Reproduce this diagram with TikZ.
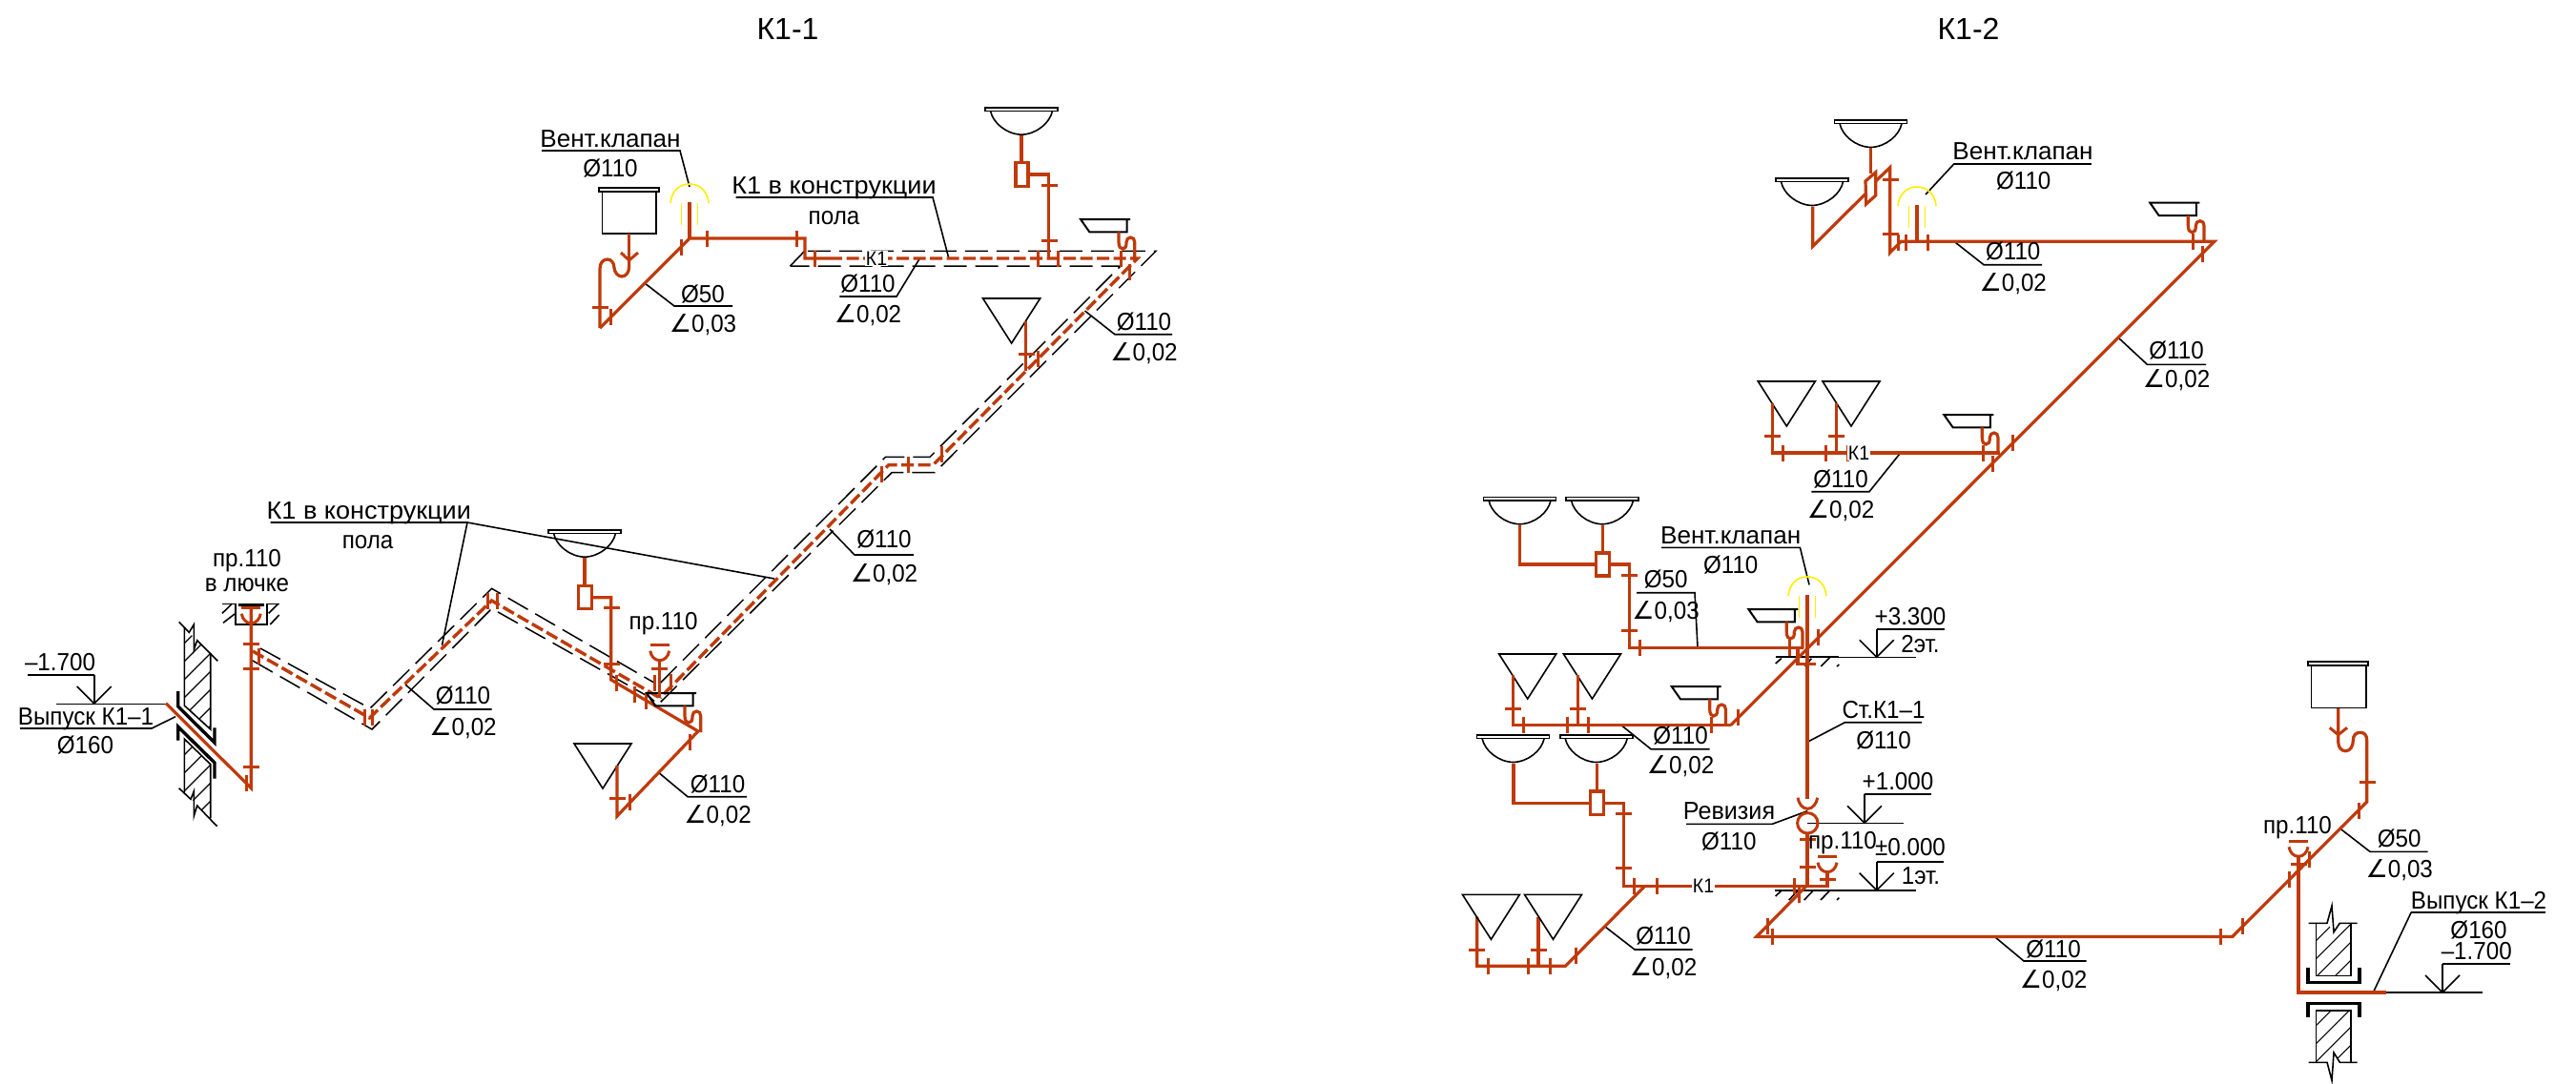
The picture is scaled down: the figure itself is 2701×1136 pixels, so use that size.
\documentclass[tikz,border=0pt]{standalone}
\usepackage{fontspec}
\setmainfont[FakeStretch=0.93]{Liberation Sans}
\newfontfamily\symf{DejaVu Sans}
\newfontfamily\ttlf{Liberation Sans}
\definecolor{rdc}{RGB}{191,58,10}
\definecolor{ylc}{RGB}{255,238,0}
\newcounter{tn}
\tikzset{
  pipe/.style={draw=rdc,line width=3.2pt,line join=miter},
  tick/.style={draw=rdc,line width=3pt},
  dpipe/.style={draw=rdc,line width=3.4pt,dash pattern=on 13pt off 4.5pt},
  blk/.style={draw=black,line width=1.6pt},
  thick blk/.style={draw=black,line width=3.4pt},
  dblk/.style={draw=black,line width=1.5pt,dash pattern=on 24pt off 9pt},
  yel/.style={draw=ylc,line width=1.6pt},
  lbl/.style={anchor=base,inner sep=0pt,font=\fontsize{26}{30}\selectfont},
  small/.style={anchor=base,inner sep=1pt,fill=white,font=\fontsize{21}{24}\selectfont},
  ttl/.style={anchor=base,inner sep=0pt,font=\ttlf\fontsize{32}{38}\selectfont},
}
\newcommand\T[3]{\stepcounter{tn}\node[lbl] (t\arabic{tn}) at (#1,#2) {#3};}
\newcommand\TS[3]{\stepcounter{tn}\node[small] (t\arabic{tn}) at (#1,#2) {#3};}
\newcommand\wide[2]{\scalebox{#1}[1]{#2}}
\newcommand\ang{{\symf ∠}}
\newcommand\dia{Ø}
\newcommand\tkv[2]{\draw[tick] (#1,{#2-8.5}) -- (#1,{#2+8.5});}
\newcommand\tkh[2]{\draw[tick] ({#1-8.5},#2) -- ({#1+8.5},#2);}
% washbasin: centre x, top y
\newcommand\basin[2]{\begin{scope}[shift={(#1,#2)}]
  \draw[blk,fill=white] (-38,0) rectangle (38,3.6);
  \draw[blk] (-32.5,3.6) .. controls (-30,16) and (-16,28) .. (0,28.5) .. controls (16,28) and (30,16) .. (32.5,3.6);
\end{scope}}
% inverted triangle: left x, top y
\newcommand\trian[2]{\draw[blk,shift={(#1,#2)}] (0,0) -- (60,0) -- (30,47) -- cycle;}
% tray with S-trap: left x, top y, trap end relative y
\newcommand\tray[3]{\begin{scope}[shift={(#1,#2)}]
  \draw[blk,line width=2pt] (52,0) -- (0,0) -- (9.3,13.3) -- (48.5,13.3) -- (48.5,0);
  \draw[pipe] (40,13.3) -- (40,24) .. controls (40,29) and (42,31) .. (44,31) .. controls (46.5,31) and (48,29) .. (48,25) -- (48,24) .. controls (48,21) and (50,19) .. (52.5,19) .. controls (55,19) and (56.7,21) .. (56.7,24) -- (56.7,#3);
\end{scope}}
% cup: stem x, bar y
\newcommand\cupp[2]{\begin{scope}[shift={(#1,#2)}]
  \draw[tick] (-10,0) -- (10,0);
  \draw[tick] (-10,6) .. controls (-9,12) and (-5,16) .. (0,16) .. controls (5,16) and (9,12) .. (10,6);
\end{scope}}
% vent valve: stem x, arc top y
\newcommand\vent[2]{\begin{scope}[shift={(#1,#2)}]
  \draw[yel] (-20,20) .. controls (-19,8) and (-11,0) .. (0,0) .. controls (11,0) and (19,8) .. (20,20);
  \draw[yel] (-8.5,20) -- (-8.5,43);
  \draw[yel] (8.5,20) -- (8.5,43);
\end{scope}}
% level mark: apex x, level y, stem top y
\newcommand\lvl[3]{\draw[blk] ({#1-18},{#2-18}) -- (#1,#2) -- ({#1+18},{#2-18}); \draw[blk] (#1,#3) -- (#1,#2);}
\begin{document}
\begin{tikzpicture}[x=1pt,y=-1pt]
\useasboundingbox (0,0) rectangle (2701,1136);
\fill[white] (0,0) rectangle (2701,1136);

% ===== Titles =====
\stepcounter{tn}\node[ttl] (titleA) at (826,41) {К1-1};
\stepcounter{tn}\node[ttl] (titleB) at (2064,41) {К1-2};

% ===== K1-1 : walls =====
\begin{scope}
 \clip (193.3,660) -- (203,668) -- (207,672) -- (220.7,685) -- (220.7,765) -- (193.3,740) -- cycle;
 \foreach \k in {0,...,8} \draw[blk,line width=1.1pt] (190,{640+19*\k}) -- (225,{605+19*\k});
\end{scope}
\begin{scope}
 \clip (193.3,775) -- (220.7,801.7) -- (220.7,858) -- (206,845) -- (203,840) -- (193.3,832) -- cycle;
 \foreach \k in {0,...,8} \draw[blk,line width=1.1pt] (190,{795+19*\k}) -- (225,{760+19*\k});
\end{scope}
\draw[blk] (193.3,658) -- (193.3,740) -- (220.7,765) -- (220.7,685);
\draw[blk] (220.7,858) -- (220.7,801.7) -- (193.3,775) -- (193.3,832);
\draw[blk] (187.7,652.3) -- (198.3,663.3) -- (203.3,655) -- (203.3,681.7) -- (206.7,671.7) -- (228.3,693.3);
\draw[blk] (187.7,826.7) -- (200,838.3) -- (203.3,830) -- (203.3,856) -- (206.7,845) -- (227.6,866.7);
\draw[thick blk] (186.7,725) -- (186.7,741) -- (225,779) -- (225,763.3);
\draw[thick blk] (186.7,776.7) -- (186.7,762.3) -- (225,800) -- (225,816.7);
% hatch box of cleanout
\draw[blk] (232.7,633.3) -- (246.7,633.3) -- (246.7,655) -- (280,655) -- (280,633.3) -- (292.7,633.3);
\draw[thick blk,line width=2.4pt] (250,634.6) -- (277,634.6);
\draw[blk] (233,643.3) -- (243.3,633.3);
\draw[blk] (234,653.3) -- (246,644);
\draw[blk] (281.7,643.3) -- (291.7,633.3);
\draw[blk] (283.3,655) -- (292.7,645);

% ===== K1-1 : dashed channel outlines =====
\draw[dblk] (273,680) -- (388,743) -- (515.6,617.3) -- (687,716.7);
\draw[dblk] (265,693) -- (390,765) -- (515.6,638.3) -- (681.7,731.7) -- (690,739) -- (935,495.7) -- (980,495.7) -- (1212,263.3) -- (843.7,263.3);
\draw[dblk] (692.7,716) -- (928.6,479.3) -- (975,479.3) -- (1175,279) -- (828.5,279);
\draw[blk] (843.7,263.3) -- (828.5,279);

% ===== K1-1 : leaders =====
\draw[blk] (568,158) -- (713,158) -- (723,196);
\draw[blk] (771.6,207) -- (978,207) -- (995,271.7);
\draw[blk] (676,297) -- (707,321) -- (768,321);
\draw[blk] (964,271.7) -- (940,311) -- (880.4,311);
\draw[blk] (1137.5,326) -- (1168.8,350.7) -- (1229,350.7);
\draw[blk] (870,555) -- (896,582) -- (958,582);
\draw[blk] (283.6,548) -- (490,548) -- (463.5,676.7);
\draw[blk] (490,548) -- (812,607);
\draw[blk] (425,718) -- (455,744) -- (515.6,744);
\draw[blk] (691,810.7) -- (721,835.7) -- (783,835.7);
\draw[blk] (21,764) -- (159,764) -- (184,751.7);
\draw[blk] (59,738.3) -- (174,738.3);
\draw[blk] (28.5,707.7) -- (98.7,707.7);
\lvl{98.7}{738}{707.7}

% ===== K1-1 : fixtures =====
\draw[blk,line width=2pt,fill=white] (628,197) rectangle (691,200.5);
\draw[blk] (631.6,200.5) -- (631.6,245) -- (688,245) -- (688,200.5);
\basin{1071}{112.7}
\basin{613}{555.7}
\trian{1030.6}{313}
\trian{602}{780}
\vent{723}{193}

% tank trap
\draw[pipe] (659.6,245) -- (659.6,273);
\draw[tick] (651,265) -- (659.6,273) -- (669,265);
\draw[pipe] (659.6,273) -- (659.6,280) .. controls (659.6,286) and (656,290) .. (652,290) .. controls (648,290) and (644.5,286) .. (644,281) .. controls (644,276) and (641,272) .. (637,272) .. controls (632,272) and (629,276) .. (629,282) -- (629,344);
\tkh{629.5}{322.7}
% top branch
\draw[pipe] (629,344) -- (723,250) -- (844,250) -- (844,271) -- (870,271);
\draw[pipe] (723,212) -- (723,250);
\tkv{640}{332.5}
\tkv{714}{259.5}
\tkv{741}{250.5}
\tkv{835}{250.5}
\tkv{854}{271}
% tray top + basin branch
\tray{1133}{230}{42}
\draw[pipe] (1071,141.7) -- (1071,170.7);
\draw[pipe,fill=white] (1065,170.7) rectangle (1078,195.3);
\draw[pipe] (1078,183) -- (1099.4,183) -- (1099.4,271);
\tkh{1100}{194.7}
\tkh{1100}{252}
\tkv{1088.4}{271}
\tkv{1109}{271}
\tkv{1175}{271}
\tkv{1184}{285.5}
% dashed main
\draw[dpipe] (870,271) -- (1192.6,271) -- (978.3,487.7) -- (931.7,487.7) -- (692,732);
\draw[dpipe] (265,683) -- (387.5,753) -- (515.6,630) -- (692,732);
% jog ticks
\tkv{924}{497.5}
\tkv{952}{487.5}
\tkv{987.7}{476}
% riser with triangle
\draw[pipe] (1075.6,336.7) -- (1075.6,389);
\tkh{1076}{371.7}
\tkv{1088.4}{376}
% zigzag ticks
\tkv{271.7}{688}
\tkv{382.7}{752.5}
\tkv{390.7}{752.5}
\tkv{511}{630}
\tkv{521}{630}
% lower end
\draw[pipe] (613,585) -- (613,614.7);
\draw[pipe,fill=white] (606.7,614.7) rectangle (620.4,638.7);
\draw[pipe] (620.4,626.7) -- (640.7,626.7) -- (640.7,713) -- (732,767) -- (647,856) -- (647,803);
\tkh{641.8}{637.7}
\tkh{641.8}{696.7}
\tkv{646.7}{716.5}
\tkv{665}{728.5}
\tkv{677}{735}
\tkv{723}{778.5}
\tkv{660}{841.5}
\tkh{647.3}{837.7}
\tray{678}{727}{41}
\draw[pipe] (691.7,690.7) -- (691.7,732);
\cupp{691.7}{676.7}
\tkh{691.7}{701.7}
\tkv{686}{716}
\tkv{703}{715}
% cleanout in hatch and outlet
\cupp{263.3}{637.7}
\draw[pipe] (263.3,638) -- (263.3,826.7) -- (174,737.7);
\tkh{263.5}{675.7}
\tkh{263.5}{701.7}
\tkh{263.5}{804.3}
\tkv{258.7}{821}

% ===== K1-1 : texts =====
\T{640}{154}{\wide{1.08}{Вент.клапан}}
\T{640}{185}{\dia110}
\T{874.5}{203}{\wide{1.12}{К1 в конструкции}}
\T{874.5}{235.7}{пола}
\TS{919}{278}{К1}
\T{737}{317}{\dia50}
\T{737}{348}{\ang0,03}
\T{910}{306.7}{\dia110}
\T{910}{338}{\ang0,02}
\T{1199.5}{346}{\dia110}
\T{1199.5}{378}{\ang0,02}
\T{927}{574}{\dia110}
\T{927}{610}{\ang0,02}
\T{386.8}{544}{\wide{1.12}{К1 в конструкции}}
\T{385.6}{575}{пола}
\T{259}{594}{пр.110}
\T{259}{620}{в лючке}
\T{63}{703}{–1.700}
\T{90}{760}{Выпуск К1–1}
\T{89.4}{790}{\dia160}
\T{485.5}{738}{\dia110}
\T{485.5}{771.6}{\ang0,02}
\T{695.6}{660}{пр.110}
\T{752.6}{831}{\dia110}
\T{752.6}{863}{\ang0,02}

% ===== K1-2 : leaders and levels =====
\draw[blk] (2049,171.7) -- (2193,171.7);
\draw[blk] (2049,171.7) -- (2019,204);
\draw[blk] (2049,253.3) -- (2080,277.7) -- (2141,277.7);
\draw[blk] (2222,355) -- (2251.5,382.4) -- (2313,382.4);
\draw[blk] (1992.7,475) -- (1960,515.7) -- (1899.3,515.7);
\draw[blk] (1742,574.3) -- (1887.4,574.3) -- (1897,613.3);
\draw[blk] (1716,621.7) -- (1777,621.7) -- (1780,679.3);
\draw[blk] (1700,760.7) -- (1731,785.7) -- (1792.5,785.7);
\draw[blk] (1895,778.3) -- (1934.5,757.7) -- (2015,757.7);
\draw[blk] (1895,850.7) -- (1858.3,864.3) -- (1768,864.3);
\draw[blk] (1682.6,971.7) -- (1714,996) -- (1774.5,996);
\draw[blk] (2091.4,982.5) -- (2122,1008) -- (2187.7,1008);
\draw[blk] (1861.7,689.3) -- (2009.3,689.3);
\draw[thick blk,line width=2.2pt] (1861.7,689.3) -- (1928,689.3);
\draw[blk] (1967.7,660) -- (2039,660);
\lvl{1967.7}{689.3}{660}
\draw[blk] (1861.7,696) -- (1867.7,690.7);
\draw[blk] (1892.7,699) -- (1899.3,690.7);
\draw[blk] (1909.3,699) -- (1918.3,690);
\draw[blk] (1926,699) -- (1928.3,697);
\draw[blk] (1895,863.3) -- (1995.7,863.3);
\draw[blk] (1955,832.7) -- (2025,832.7);
\lvl{1955}{863.3}{832.7}
\draw[blk] (1861,933.7) -- (2009.3,933.7);
\draw[thick blk,line width=2.2pt] (1861,933.7) -- (1928,933.7);
\draw[blk] (1967.7,904) -- (2038.3,904);
\lvl{1967.7}{933.7}{904}
\draw[blk] (1861.7,940) -- (1867.7,934.3);
\draw[blk] (1875.7,944) -- (1885,934.3);
\draw[blk] (1891.7,944) -- (1901,934.3);
\draw[blk] (1909,944) -- (1918.3,934.3);
\draw[blk] (1926,944) -- (1928.3,941.7);
\draw[blk] (2488.3,1041) -- (2602.7,1041);
\draw[blk] (2561,1011) -- (2631.7,1011);
\lvl{2561}{1041}{1011}
\draw[blk] (2528.3,956.7) -- (2669,956.7);
\draw[blk] (2528.3,956.7) -- (2488.3,1041);
\draw[blk] (2454,869.3) -- (2485,893.3) -- (2545.7,893.3);

% ===== K1-2 : walls =====
\begin{scope}
 \clip (2428.3,968.3) -- (2440,968.3) -- (2447,977.7) -- (2453.3,968.3) -- (2465,968.3) -- (2465,1023.3) -- (2428.3,1023.3) -- cycle;
 \foreach \k in {0,...,6} \draw[blk,line width=1.1pt] (2425,{990+19*\k}) -- (2470,{945+19*\k});
\end{scope}
\begin{scope}
 \clip (2428.3,1060) -- (2465,1060) -- (2465,1115) -- (2453.3,1115) -- (2447,1104) -- (2440,1115) -- (2428.3,1115) -- cycle;
 \foreach \k in {0,...,6} \draw[blk,line width=1.1pt] (2425,{1079+19*\k}) -- (2470,{1034+19*\k});
\end{scope}
\draw[blk] (2420.7,968.3) -- (2440,968.3) -- (2445,950) -- (2447,977.7) -- (2453.3,968.3) -- (2471.7,968.3);
\draw[blk] (2428.3,968.3) -- (2428.3,1023.3) -- (2465,1023.3) -- (2465,968.3);
\draw[blk] (2420.7,1114.3) -- (2440,1114.3) -- (2445,1133.3) -- (2447,1104) -- (2453.3,1114.3) -- (2471.7,1114.3);
\draw[blk] (2428.3,1114.3) -- (2428.3,1060) -- (2465,1060) -- (2465,1114.3);
\draw[thick blk] (2420,1015) -- (2420,1030.7) -- (2474,1030.7) -- (2474,1015);
\draw[thick blk] (2420,1067.3) -- (2420,1052.3) -- (2474,1052.3) -- (2474,1067.3);

% ===== K1-2 : top =====
\basin{1961.5}{126}
\basin{1900}{187}
\vent{2010}{196}
\draw[pipe] (1961.7,155) -- (1961.7,182);
\draw[pipe,fill=white] (1956,190) -- (1966.7,180.7) -- (1966.7,205) -- (1956.7,214) -- cycle;
\draw[pipe] (1900.7,216.7) -- (1900.7,258.3) -- (1956,203.3);
\draw[pipe] (1966.7,190) -- (1981.7,175.7) -- (1981.7,265) -- (1993.3,253.3) -- (2321.7,253.3) -- (1814.7,760.7);
\tkh{1982}{188.3}
\tkh{1982}{245.7}
\tkv{1990}{254.3}
\tkv{1998.3}{254.3}
\tkv{2021}{254.3}
\draw[pipe] (2010,215) -- (2010,253.3);
\tray{2254.3}{212.7}{40.6}
\tkv{2299.3}{253.5}
\tkv{2309.3}{266}

% ===== K1-2 : second floor branches =====
\trian{1843.3}{400}
\trian{1911}{400}
\draw[pipe] (1858.3,423) -- (1858.3,475) -- (1940,475);
\draw[pipe] (1958,475) -- (2096.7,475);
\draw[pipe] (1925.7,423) -- (1925.7,475);
\tkh{1858.4}{457.3}
\tkh{1925.5}{457.3}
\tkv{1869.3}{475}
\tkv{1914.3}{475}
\tkv{1937.3}{475}
\tray{2038.3}{435}{40}
\tkv{2079.7}{475}
\tkv{2089.7}{486}
\tkv{2110.7}{464}
% basins mid
\basin{1593.5}{521.3}
\basin{1680}{521.3}
\draw[pipe] (1593.5,550.7) -- (1593.5,592) -- (1673.8,592);
\draw[pipe] (1680.4,550.7) -- (1680.4,580);
\draw[pipe,fill=white] (1673.8,580) rectangle (1687.6,604);
\draw[pipe] (1687.6,592) -- (1708.7,592) -- (1708.7,679.3) -- (1891,679.3);
\tkh{1708.5}{603.3}
\tkh{1708.5}{661}
\tkv{1719.8}{679}
\tkv{1876}{679}
\tkv{1906.5}{668.3}
\vent{1895}{605}
\tray{1833.3}{639}{41}
\draw[pipe] (1895,624) -- (1895,838.3);
\draw[pipe] (1885,680) -- (1885,696.7) -- (1904,696.7);
% lower-second row
\trian{1571.7}{686}
\trian{1639.4}{686}
\draw[pipe] (1586.6,708.3) -- (1586.6,760.7) -- (1814.7,760.7);
\draw[pipe] (1654.3,708.3) -- (1654.3,760.7);
\tkh{1586.7}{743.7}
\tkh{1654}{743.7}
\tkv{1597.7}{760.5}
\tkv{1643}{760.5}
\tkv{1665.4}{760.5}
\tkv{1794.4}{760.5}
\tkv{1822.3}{752.5}
\tray{1752.7}{720}{40.7}
% ===== K1-2 : stack lower =====
\basin{1586.6}{771}
\basin{1673.7}{771}
\draw[pipe] (1587,800.7) -- (1587,842.3) -- (1667.3,842.3);
\draw[pipe] (1674.2,800.7) -- (1674.2,830);
\draw[pipe,fill=white] (1667.3,830) rectangle (1681.5,854.3);
\draw[pipe] (1681.5,842.3) -- (1702.5,842.3) -- (1702.5,929.3) -- (1776,929.3);
\draw[pipe] (1796.3,929.3) -- (1916,929.3) -- (1916,915);
\tkh{1702.7}{853.3}
\tkh{1702.7}{910.7}
\tkv{1713.3}{929}
\tkv{1737}{929}
\tkv{1881}{929.5}
\tkv{1886.7}{938}
\draw[tick] (1885,836.7) .. controls (1886,843) and (1890,848.3) .. (1895.3,848.3) .. controls (1900.5,848.3) and (1904.7,843) .. (1905.7,836.7);
\draw[tick] (1895.3,863.3) circle[radius=10.7];
\draw[pipe] (1895,874) -- (1895,929.3);
\tkh{1895.5}{880.7}
\tkh{1895}{909.3}
\cupp{1916}{898.7}
\tkh{1916}{922.3}
% lower left branch
\draw[pipe] (1724.7,929.3) -- (1641.3,1013.3) -- (1548.7,1013.3) -- (1548.7,961.7);
\draw[pipe] (1613,961.7) -- (1613,1013.3);
\trian{1533.4}{938.3}
\trian{1598.5}{938.3}
\tkh{1548.7}{996.7}
\tkh{1613.5}{996.7}
\tkv{1560}{1013.5}
\tkv{1602.3}{1013.5}
\tkv{1625.2}{1013.5}
\tkv{1652}{1002}
% main bottom
\draw[pipe] (1894,929.3) -- (1841.7,982.5) -- (2340.7,982.5) -- (2481.7,841) -- (2481.7,776.7) .. controls (2481.7,771) and (2479,768.3) .. (2475,768.3) .. controls (2470,768.3) and (2467.3,771) .. (2467.3,776.7) .. controls (2467.3,783) and (2464,787.7) .. (2459.3,787.7) .. controls (2455,787.7) and (2451.7,784) .. (2451.7,778.3) -- (2451.7,742.3);
\draw[tick] (2442.7,763.3) -- (2451.7,770.7) -- (2461,763.3);
\draw[blk,line width=2pt,fill=white] (2420,694) rectangle (2483.3,698);
\draw[blk] (2423.3,698) -- (2423.3,742.3) -- (2480.7,742.3) -- (2480.7,698);
\tkv{1853.3}{971.3}
\tkv{1858.3}{982.5}
\tkv{2328.3}{982.5}
\tkv{2351.7}{971.3}
\tkv{2400}{922.3}
\tkv{2421.7}{901.7}
\tkv{2473.3}{850}
\tkh{2482}{820.3}
\cupp{2410}{882.3}
\draw[pipe] (2410,898.3) -- (2410,1041) -- (2501.7,1041);
\tkh{2410.3}{906.7}

% ===== K1-2 : texts =====
\T{2121}{167.3}{\wide{1.08}{Вент.клапан}}
\T{2121.7}{198.3}{\dia110}
\T{2110.7}{272}{\dia110}
\T{2110.7}{305}{\ang0,02}
\T{2282}{376}{\dia110}
\T{2282}{406}{\ang0,02}
\TS{1949}{482}{К1}
\T{1930}{511}{\dia110}
\T{1930}{543.3}{\ang0,02}
\T{1814.7}{570}{\wide{1.08}{Вент.клапан}}
\T{1814.7}{601}{\dia110}
\T{1746.6}{616.7}{\dia50}
\T{1746.6}{649}{\ang0,03}
\T{2003}{655}{+3.300}
\T{2013.5}{684}{2эт.}
\T{1762}{780}{\dia110}
\T{1762}{811.7}{\ang0,02}
\T{1975}{753}{Ст.К1–1}
\T{1975}{785}{\dia110}
\T{1990}{828}{+1.000}
\T{1813}{859.3}{\wide{1.04}{Ревизия}}
\T{1812.8}{891.7}{\dia110}
\T{1932}{890}{пр.110}
\T{2003}{897.3}{±0.000}
\T{2014}{927.3}{1эт.}
\TS{1786}{936}{К1}
\T{1744}{990.7}{\dia110}
\T{1744}{1023}{\ang0,02}
\T{2153}{1004}{\dia110}
\T{2153}{1036}{\ang0,02}
\T{2515.7}{888.3}{\dia50}
\T{2515.7}{920.7}{\ang0,03}
\T{2409}{874}{пр.110}
\T{2599}{953.3}{Выпуск К1–2}
\T{2599}{984}{\dia160}
\T{2596.7}{1006}{–1.700}
\end{tikzpicture}
\end{document}
